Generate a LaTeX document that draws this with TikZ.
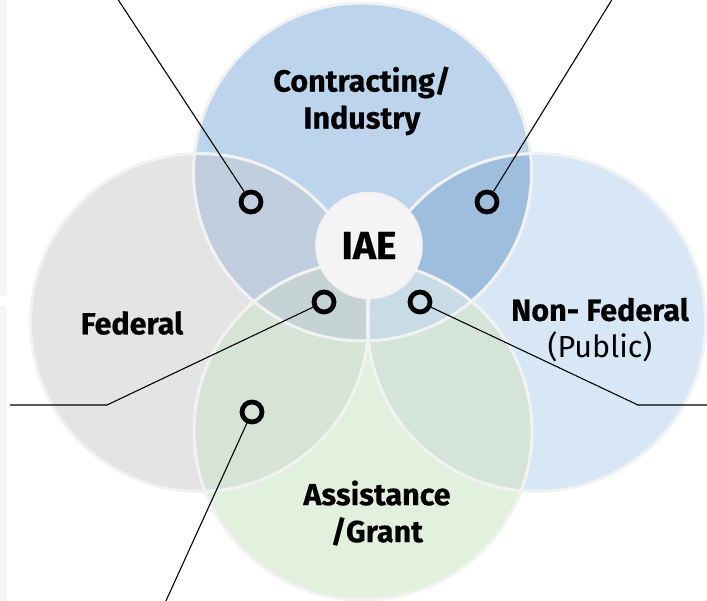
\documentclass[tikz,border=0pt]{standalone}
\usepackage{fontspec}
\setmainfont{Fira Sans}[BoldFeatures={FakeBold=0.5}]
\usepackage{tikz}
\definecolor{fedgray}{HTML}{E4E4E4}
\definecolor{nonfedblue}{HTML}{D8E7F5}
\definecolor{topblue}{HTML}{BDD5EC}
\definecolor{grantgreen}{HTML}{E2F0DE}
\definecolor{tlblue}{HTML}{C0CEDD}
\definecolor{trblue}{HTML}{9DBFDD}
\definecolor{blgreen}{HTML}{D5E4D5}
\definecolor{brgreen}{HTML}{D4E4D9}
\definecolor{tblgray}{HTML}{C5D3D4}
\definecolor{tbrblue}{HTML}{C8DCE6}
\definecolor{rimgray}{HTML}{F2F2F2}
\definecolor{hubgray}{HTML}{F4F4F4}
\definecolor{stripgray}{HTML}{F5F5F5}
\newcommand{\vennr}{169pt}
\tikzstyle{rim} = [draw=rimgray, line width=3pt]
\tikzstyle{hub} = [circle, fill=hubgray, draw=rimgray, line width=1.5pt, minimum size=106pt, inner sep=0pt, font=\bfseries\fontsize{39}{39}\selectfont]
\tikzstyle{areatext} = [align=center, font=\fontsize{30.5}{37}\selectfont]
\tikzstyle{ring} = [circle, draw=black, line width=4.8pt, minimum size=20pt, inner sep=0pt]
\tikzstyle{leader} = [line width=1.1pt, black]

\begin{document}
\begin{tikzpicture}[x=1pt, y=-1pt]

\useasboundingbox (0,0) rectangle (707,601);
\fill[stripgray, rounded corners=4pt] (-6,-10) rectangle (7,296);
\fill[stripgray, rounded corners=4pt] (-6,306) rectangle (7,611);

\coordinate (ctop) at (362.5,172);
\coordinate (cleft) at (199.5,322.5);
\coordinate (cright) at (536.5,322.5);
\coordinate (cbot) at (363,431);

\fill[fedgray] (cleft) circle (\vennr);
\fill[nonfedblue] (cright) circle (\vennr);
\fill[topblue] (ctop) circle (\vennr);
\fill[grantgreen] (cbot) circle (\vennr);
\begin{scope}
\clip (cbot) circle (\vennr);
\fill[blgreen] (cleft) circle (\vennr);
\fill[brgreen] (cright) circle (\vennr);
\end{scope}
\begin{scope}
\clip (ctop) circle (\vennr);
\fill[tlblue] (cleft) circle (\vennr);
\fill[trblue] (cright) circle (\vennr);
\clip (cbot) circle (\vennr);
\fill[tblgray] (cleft) circle (\vennr);
\fill[tbrblue] (cright) circle (\vennr);
\end{scope}
\foreach \c in {ctop,cleft,cright,cbot}
  \draw[rim] (\c) circle (\vennr);

\node (iae) [hub] at (369,245.5) {IAE};
\node (contr) [areatext] at (362,101) {\textbf{Contracting/}\\\textbf{Industry}};
\node (fed) [areatext] at (132,323) {\textbf{Federal}};
\node (nonfed) [areatext] at (600,330) {\textbf{Non- Federal}\\(Public)};
\node (grant) [areatext] at (377,513) {\textbf{Assistance}\\\textbf{/Grant}};

\node (rtl) [ring] at (251,202) {};
\node (rtr) [ring] at (487,202) {};
\node (rcl) [ring] at (324,302) {};
\node (rcr) [ring] at (420,302) {};
\node (rbl) [ring] at (252,412) {};

\coordinate (etl) at (117,-2);
\coordinate (etr) at (613,-2);
\coordinate (kcl) at (107,405);
\coordinate (ecl) at (10,405);
\coordinate (kcr) at (638,405);
\coordinate (ecr) at (709,405);
\coordinate (ebl) at (165,603);

\draw [leader] (rtl) -- (etl);
\draw [leader] (rtr) -- (etr);
\draw [leader] (rcl) -- (kcl) -- (ecl);
\draw [leader] (rcr) -- (kcr) -- (ecr);
\draw [leader] (rbl) -- (ebl);

\end{tikzpicture}
\end{document}
